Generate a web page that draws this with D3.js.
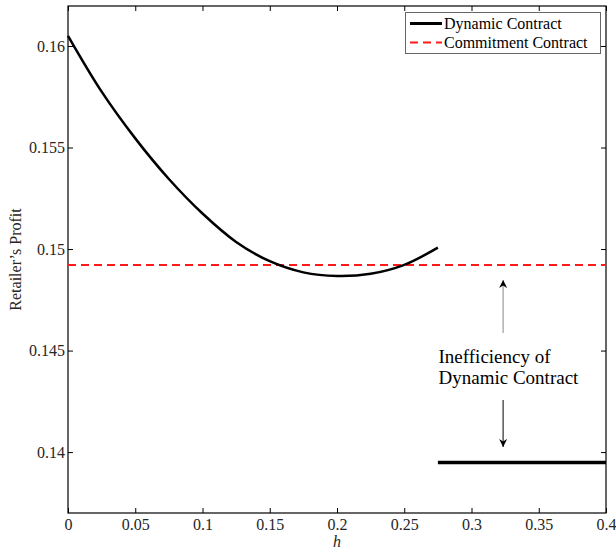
<!DOCTYPE html>
<html>
<head>
<meta charset="utf-8">
<script src="https://cdn.jsdelivr.net/npm/d3@7"></script>
<style>
  body { margin: 0; background: #fff; }
  text { font-family: 'Liberation Serif', 'Times New Roman', serif; }
</style>
</head>
<body>
<script>
  // data
  const hValues = [0, 0.025, 0.05, 0.075, 0.1, 0.125, 0.15, 0.175, 0.2, 0.225, 0.25, 0.275];
  const dynamicProfit = [0.1605, 0.15775, 0.15545, 0.15345, 0.15175, 0.15035, 0.1494, 0.14885, 0.14867, 0.14878, 0.14922, 0.15007];
  const lowerH = [0.275, 0.4];
  const lowerProfit = [0.13949, 0.13949];
  const commitmentProfit = 0.14921;
  const xTicks = [0, 0.05, 0.1, 0.15, 0.2, 0.25, 0.3, 0.35, 0.4];
  const yTicks = [0.14, 0.145, 0.15, 0.155, 0.16];
  const legendLabels = ['Dynamic Contract', 'Commitment Contract'];

  const WIDTH = 616;
  const HEIGHT = 551;
  const MARGIN = { top: 6, right: 10, bottom: 38, left: 68 };
  const W = WIDTH - MARGIN.left - MARGIN.right;
  const H = HEIGHT - MARGIN.top - MARGIN.bottom;

  const svg = d3.select('body').append('svg')
    .attr('width', WIDTH)
    .attr('height', HEIGHT);

  const g = svg.append('g')
    .attr('transform', `translate(${MARGIN.left},${MARGIN.top})`);

  const x = d3.scaleLinear().domain([0, 0.4]).range([0, W]);
  const y = d3.scaleLinear().domain([0.137, 0.16197]).range([H, 0]);

  const fmt = d => d3.format('~g')(d);

  // axes, ticks pointing inward
  g.append('g')
    .attr('transform', `translate(0,${H})`)
    .call(d3.axisBottom(x).tickValues(xTicks).tickFormat(fmt).tickSizeInner(-5).tickSizeOuter(0).tickPadding(6))
    .call(a => a.select('.domain').remove());
  g.append('g')
    .call(d3.axisTop(x).tickValues(xTicks).tickFormat('').tickSizeInner(-5).tickSizeOuter(0))
    .call(a => a.select('.domain').remove());
  g.append('g')
    .call(d3.axisLeft(y).tickValues(yTicks).tickFormat(fmt).tickSizeInner(-5).tickSizeOuter(0).tickPadding(3))
    .call(a => a.select('.domain').remove());
  g.append('g')
    .attr('transform', `translate(${W},0)`)
    .call(d3.axisRight(y).tickValues(yTicks).tickFormat('').tickSizeInner(-5).tickSizeOuter(0))
    .call(a => a.select('.domain').remove());

  g.selectAll('.tick text')
    .attr('font-family', "'Liberation Serif', serif")
    .attr('font-size', 16)
    .attr('fill', '#262626');
  g.selectAll('.tick line').attr('stroke', '#000');

  g.append('rect')
    .attr('width', W)
    .attr('height', H)
    .attr('fill', 'none')
    .attr('stroke', '#000')
    .attr('stroke-width', 1.2);

  // commitment contract
  g.append('line')
    .attr('x1', x(0)).attr('x2', x(0.4))
    .attr('y1', y(commitmentProfit)).attr('y2', y(commitmentProfit))
    .attr('stroke', '#ff1a1a')
    .attr('stroke-width', 2)
    .attr('stroke-dasharray', '8,5');

  // dynamic contract
  const line = d3.line()
    .x(d => x(d[0]))
    .y(d => y(d[1]))
    .curve(d3.curveCatmullRom);

  g.append('path')
    .datum(hValues.map((h, i) => [h, dynamicProfit[i]]))
    .attr('d', line)
    .attr('fill', 'none')
    .attr('stroke', '#000')
    .attr('stroke-width', 2.5);

  g.append('path')
    .datum(lowerH.map((h, i) => [h, lowerProfit[i]]))
    .attr('d', d3.line().x(d => x(d[0])).y(d => y(d[1])))
    .attr('fill', 'none')
    .attr('stroke', '#000')
    .attr('stroke-width', 3.5);

  // annotation
  const defs = svg.append('defs');
  defs.append('marker')
    .attr('id', 'head')
    .attr('viewBox', '0 0 10 10')
    .attr('refX', 10).attr('refY', 5)
    .attr('markerUnits', 'userSpaceOnUse')
    .attr('markerWidth', 13).attr('markerHeight', 8)
    .attr('orient', 'auto')
    .append('path')
    .attr('d', 'M0,0 L10,5 L0,10 L3,5 Z')
    .attr('fill', '#000');

  const ax = x(0.3235);
  g.append('line')
    .attr('x1', ax).attr('x2', ax)
    .attr('y1', 327).attr('y2', 274)
    .attr('stroke', '#888')
    .attr('stroke-width', 1)
    .attr('marker-end', 'url(#head)');
  g.append('line')
    .attr('x1', ax).attr('x2', ax)
    .attr('y1', 394).attr('y2', 441)
    .attr('stroke', '#000')
    .attr('stroke-width', 1)
    .attr('marker-end', 'url(#head)');

  const note = g.append('text')
    .attr('x', x(0.2755))
    .attr('y', 357)
    .attr('font-size', 19)
    .attr('fill', '#000');
  note.append('tspan').attr('x', x(0.2755)).text('Inefficiency of');
  note.append('tspan').attr('x', x(0.2755)).attr('dy', 21).text('Dynamic Contract');

  // axis labels
  svg.append('text')
    .attr('x', MARGIN.left + x(0.2))
    .attr('y', 547)
    .attr('text-anchor', 'middle')
    .attr('font-size', 16)
    .attr('font-style', 'italic')
    .attr('fill', '#262626')
    .text('h');

  svg.append('text')
    .attr('transform', `translate(21,${MARGIN.top + H / 2}) rotate(-90)`)
    .attr('text-anchor', 'middle')
    .attr('font-size', 16)
    .attr('fill', '#262626')
    .text('Retailer\u2019s Profit');

  // legend
  const legend = svg.append('g');
  legend.append('rect')
    .attr('x', 405.5).attr('y', 12.5)
    .attr('width', 195).attr('height', 41)
    .attr('fill', '#fff')
    .attr('stroke', '#666')
    .attr('stroke-width', 1);

  const legendStyles = [
    { stroke: '#000', width: 3, dash: null },
    { stroke: '#ff1a1a', width: 2, dash: '8,5' }
  ];
  legendLabels.forEach((label, i) => {
    const ly = 23.5 + i * 19;
    legend.append('line')
      .attr('x1', 410).attr('x2', 442)
      .attr('y1', ly).attr('y2', ly)
      .attr('stroke', legendStyles[i].stroke)
      .attr('stroke-width', legendStyles[i].width)
      .attr('stroke-dasharray', legendStyles[i].dash);
    legend.append('text')
      .attr('x', 444)
      .attr('y', ly + 5)
      .attr('font-size', 16)
      .attr('fill', '#000')
      .text(label);
  });
</script>
</body>
</html>
